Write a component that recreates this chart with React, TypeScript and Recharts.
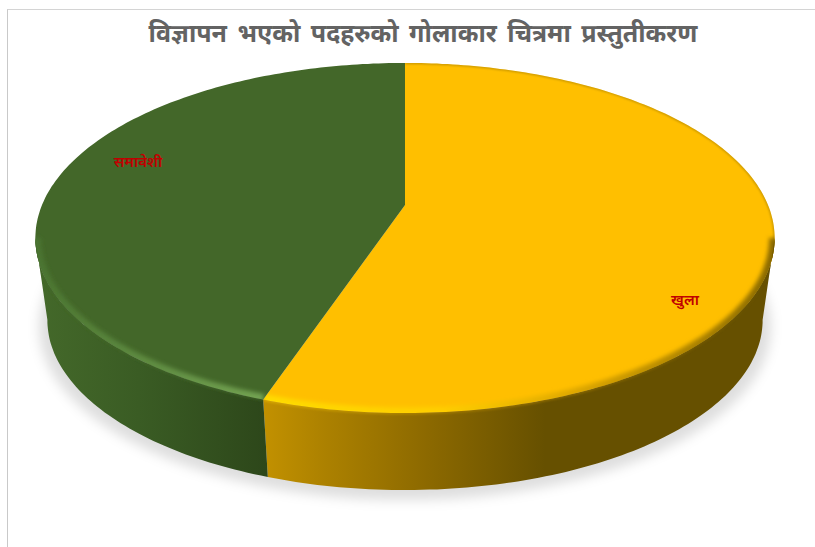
import { PieChart, Pie, Cell } from "recharts";

const categories = ["खुला", "समावेशी"];
const shares = [55.2, 44.8];
const sliceColors = ["#FFBF00", "#436729"];
const chartTitle = "विज्ञापन भएको पदहरुको गोलाकार चित्रमा प्रस्तुतीकरण";

const data = categories.map((name, i) => ({ name, value: shares[i] }));

// where the two hand-placed labels sit
const labelPos = [
  { x: 685, y: 299 },
  { x: 138, y: 161 },
];

const WIDTH = 815;
const HEIGHT = 547;

// perspective used for the tilted disc
const CX = 405;
const HUB_Y = 205;
const A = 363;
const B = 168.8;
const K = 0.1886;
const RIM_CY = 238;
const RIM_RX = 370;
const RIM_RY = 175;
const BASE_CY = 320;
const BASE_RX = 358;
const BASE_RY = 170;
const FRONT_FROM = 100.9;
const FRONT_TO = 259.1;

function rim(deg: number) {
  const t = (deg * Math.PI) / 180;
  const u = Math.sin(t);
  const v = -Math.cos(t);
  const d = 1 - K * v;
  return { x: CX + (A * u) / d, y: HUB_Y + (B * v) / d };
}

function base(deg: number) {
  const p = rim(deg);
  return {
    x: CX + ((p.x - CX) * BASE_RX) / RIM_RX,
    y: BASE_CY + ((p.y - RIM_CY) * BASE_RY) / RIM_RY,
  };
}

function arc(from: number, to: number, fn: (d: number) => { x: number; y: number }) {
  const pts = [];
  const n = Math.max(2, Math.ceil(Math.abs(to - from)));
  for (let i = 0; i <= n; i++) {
    const p = fn(from + ((to - from) * i) / n);
    pts.push(`${p.x.toFixed(1)} ${p.y.toFixed(1)}`);
  }
  return pts;
}

function DiscSlice(props: any) {
  const { startAngle, endAngle, fill, index } = props;
  const from = 90 - startAngle;
  const to = 90 - endAngle;
  const topPath = `M${CX} ${HUB_Y}L${arc(from, to, rim).join("L")}Z`;
  const a = Math.max(from, FRONT_FROM);
  const b = Math.min(to, FRONT_TO);
  const sidePath = `M${arc(a, b, rim).join("L")}L${arc(b, a, base).join("L")}Z`;
  const frontRim = `M${arc(a, b, rim).join("L")}`;
  const clipId = `top-clip-${index}`;
  const sideClipId = `side-clip-${index}`;
  return (
    <g>
      {index === 0 && (
        <ellipse cx={CX} cy={BASE_CY + 7} rx={BASE_RX + 8} ry={BASE_RY + 3} fill="#000" fillOpacity={0.13} filter="url(#soft)" />
      )}
      <clipPath id={sideClipId}>
        <path d={sidePath} />
      </clipPath>
      <path d={sidePath} fill={`url(#side-${index})`} />
      <clipPath id={clipId}>
        <path d={topPath} />
      </clipPath>
      <path d={topPath} fill={fill} />
      <g clipPath={`url(#${clipId})`}>
        {index === 0 && (
          <path d={`M${arc(from, to, rim).join("L")}`} fill="none" stroke="#8a6800" strokeOpacity={0.55} strokeWidth={2} filter="url(#thin)" />
        )}
        <path d={frontRim} fill="none" stroke={`url(#edge-${index})`} strokeWidth={11} filter="url(#bevel)" />
      </g>
      <g clipPath={`url(#${sideClipId})`}>
        <path d={frontRim} fill="none" stroke={`url(#lip-${index})`} strokeWidth={3} filter="url(#thin)" />
      </g>
    </g>
  );
}

function renderLabel(props: any) {
  const p = labelPos[props.index];
  return (
    <text x={p.x} y={p.y} textAnchor="middle" dominantBaseline="central" fontFamily="'Noto Sans', sans-serif" fontSize={15} fontWeight={600} fill="#C00000">
      {props.name}
    </text>
  );
}

export default function App() {
  return (
    <div style={{ position: "absolute", left: 0, top: 0, width: WIDTH, height: HEIGHT, background: "#fff", overflow: "hidden" }}>
      <div style={{ position: "absolute", left: 7, top: 9, width: WIDTH, height: HEIGHT, borderLeft: "1px solid #c9c9c9", borderTop: "1px solid #d4d4d4" }} />
      <PieChart width={WIDTH} height={HEIGHT} style={{ position: "absolute", left: 0, top: 0 }}>
        <defs>
          <filter id="soft" x="-10%" y="-10%" width="120%" height="120%">
            <feGaussianBlur stdDeviation="6" />
          </filter>
          <filter id="bevel" x="-5%" y="-5%" width="110%" height="110%">
            <feGaussianBlur stdDeviation="2" />
          </filter>
          <filter id="thin" x="-5%" y="-5%" width="110%" height="110%">
            <feGaussianBlur stdDeviation="1" />
          </filter>
          <linearGradient id="side-0" gradientUnits="userSpaceOnUse" x1="264" y1="0" x2="775" y2="0">
            <stop offset="0" stopColor="#C29100" />
            <stop offset="0.12" stopColor="#AC8100" />
            <stop offset="0.32" stopColor="#8C6900" />
            <stop offset="0.55" stopColor="#665000" />
            <stop offset="1" stopColor="#665000" />
          </linearGradient>
          <linearGradient id="side-1" gradientUnits="userSpaceOnUse" x1="35" y1="0" x2="266" y2="0">
            <stop offset="0" stopColor="#44692A" />
            <stop offset="0.45" stopColor="#3A5C24" />
            <stop offset="1" stopColor="#2D471A" />
          </linearGradient>
          <linearGradient id="edge-0" gradientUnits="userSpaceOnUse" x1="264" y1="0" x2="775" y2="0">
            <stop offset="0" stopColor="#FFDC00" />
            <stop offset="0.35" stopColor="#FFCE00" />
            <stop offset="0.6" stopColor="#E0A900" />
            <stop offset="1" stopColor="#8A6A00" />
          </linearGradient>
          <linearGradient id="edge-1" gradientUnits="userSpaceOnUse" x1="35" y1="0" x2="266" y2="0">
            <stop offset="0" stopColor="#4A7430" />
            <stop offset="1" stopColor="#74A453" />
          </linearGradient>
          <linearGradient id="lip-0" gradientUnits="userSpaceOnUse" x1="264" y1="0" x2="775" y2="0">
            <stop offset="0" stopColor="#D9A800" />
            <stop offset="0.4" stopColor="#9A7400" />
            <stop offset="1" stopColor="#665000" />
          </linearGradient>
          <linearGradient id="lip-1" gradientUnits="userSpaceOnUse" x1="35" y1="0" x2="266" y2="0">
            <stop offset="0" stopColor="#44692A" />
            <stop offset="1" stopColor="#3A5C24" />
          </linearGradient>
        </defs>
        <text x={423} y={42} textAnchor="middle" fontFamily="'Noto Sans', sans-serif" fontSize={25} fontWeight={700} fill="#636363" style={{ wordSpacing: 4 }}>
          {chartTitle}
        </text>
        <Pie
          data={data}
          dataKey="value"
          nameKey="name"
          cx={CX}
          cy={HUB_Y}
          outerRadius={170}
          startAngle={90}
          endAngle={-270}
          stroke="none"
          isAnimationActive={false}
          shape={DiscSlice}
          label={renderLabel}
          labelLine={false}
        >
          {data.map((d, i) => (
            <Cell key={d.name} fill={sliceColors[i]} />
          ))}
        </Pie>
      </PieChart>
    </div>
  );
}
